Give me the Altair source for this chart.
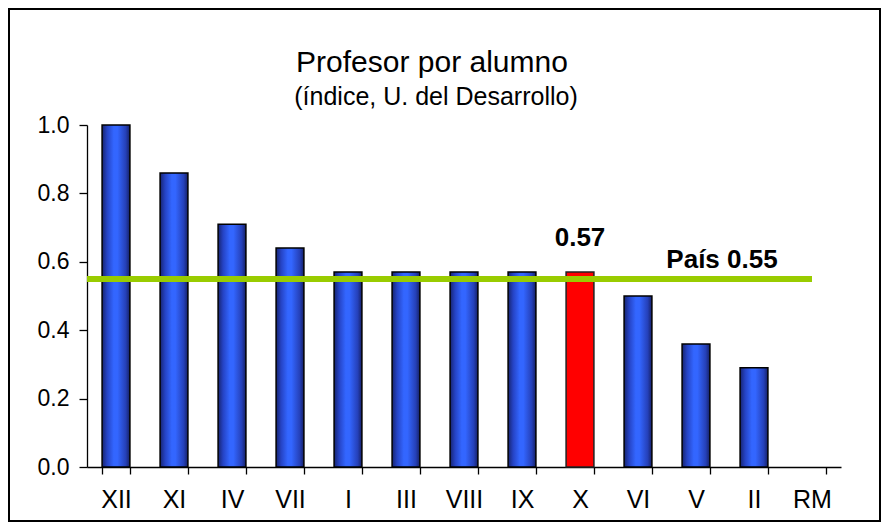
import altair as alt
import pandas as pd

# ---- data ----
regions = ["XII", "XI", "IV", "VII", "I", "III", "VIII", "IX", "X", "VI", "V", "II", "RM"]
values = [1.00, 0.86, 0.71, 0.64, 0.57, 0.57, 0.57, 0.57, 0.57, 0.50, 0.36, 0.29, 0.0]
highlight = "X"
pais_value = 0.55
pais_label = "País 0.55"
y_ticks = [0.0, 0.2, 0.4, 0.6, 0.8, 1.0]
title_text = "Profesor por alumno"
subtitle_text = "(índice, U. del Desarrollo)"

df = pd.DataFrame({"region": regions, "valor": values})
hl_value = values[regions.index(highlight)]
df_hl = pd.DataFrame({"region": [highlight], "valor": [hl_value], "label": [f"{hl_value:.2f}"]})
df_pais = pd.DataFrame({"region": ["II"], "valor": [pais_value], "label": [pais_label]})

FONT = "Liberation Sans"
W, H = 754, 342

xscale = alt.Scale(domain=regions, paddingInner=0.52, paddingOuter=0.26)
yscale = alt.Scale(domain=[0, 1])

x_axis = alt.Axis(title=None, labelFontSize=25, tickSize=7, tickBand="extent",
                  labelPadding=13, labelAngle=0, labelFont=FONT, labelColor="black",
                  domainColor="black", tickColor="black", domainWidth=1.3, tickWidth=1.3,
                  grid=False)
y_axis = alt.Axis(title=None, values=y_ticks, format=".1f", labelFontSize=23,
                  tickSize=8, labelPadding=10, labelFont=FONT, labelColor="black",
                  domainColor="black", tickColor="black", domainWidth=1.3, tickWidth=1.3,
                  grid=False)

blue_grad = alt.LinearGradient(
    gradient="linear", x1=0, x2=1, y1=0, y2=0,
    stops=[
        alt.GradientStop(color="#172470", offset=0),
        alt.GradientStop(color="#2543c4", offset=0.18),
        alt.GradientStop(color="#3366ff", offset=0.42),
        alt.GradientStop(color="#3366ff", offset=0.55),
        alt.GradientStop(color="#2540b8", offset=0.85),
        alt.GradientStop(color="#152066", offset=1),
    ],
)

base = alt.Chart(df).encode(
    x=alt.X("region:N", scale=xscale, axis=x_axis),
    y=alt.Y("valor:Q", scale=yscale, axis=y_axis),
)

bars = base.mark_bar(fill=blue_grad, stroke="black", strokeWidth=1.5).transform_filter(
    (alt.datum.valor > 0) & (alt.datum.region != highlight)
)
red_bar = base.mark_bar(fill="#ff0000", stroke="#222222", strokeWidth=1.5).transform_filter(
    alt.datum.region == highlight
)

line = alt.Chart(pd.DataFrame({"valor": [pais_value]})).mark_rule(
    color="#99cc00", strokeWidth=6
).encode(
    x=alt.X(datum="RM", type="nominal", bandPosition=0.5, scale=xscale, axis=x_axis),
    x2=alt.value(0),
    y=alt.Y("valor:Q", scale=yscale, axis=y_axis),
)

hl_text = alt.Chart(df_hl).mark_text(
    font=FONT, fontSize=26, fontWeight="bold", color="black", baseline="alphabetic", dy=-26
).encode(
    x=alt.X("region:N", scale=xscale, axis=x_axis),
    y=alt.Y("valor:Q", scale=yscale, axis=y_axis),
    text="label:N",
)

pais_text = alt.Chart(df_pais).mark_text(
    font=FONT, fontSize=26, fontWeight="bold", color="black", baseline="alphabetic", dx=-32, dy=-11
).encode(
    x=alt.X("region:N", scale=xscale, axis=x_axis),
    y=alt.Y("valor:Q", scale=yscale, axis=y_axis),
    text="label:N",
)

title = alt.Chart(pd.DataFrame({"t": [title_text]})).mark_text(
    font=FONT, fontSize=30, color="black", baseline="alphabetic", align="center"
).encode(x=alt.value(345), y=alt.value(-53), text="t:N")

subtitle = alt.Chart(pd.DataFrame({"t": [subtitle_text]})).mark_text(
    font=FONT, fontSize=25, color="black", baseline="alphabetic", align="center"
).encode(x=alt.value(349), y=alt.value(-20), text="t:N")

border = alt.Chart(pd.DataFrame({"b": [1]})).mark_rect(
    fill="white", fillOpacity=0, stroke="black", strokeWidth=2
).encode(x=alt.value(-78), x2=alt.value(793), y=alt.value(-116), y2=alt.value(396))

chart = alt.layer(border, bars, red_bar, line, hl_text, pais_text, title, subtitle).properties(
    width=W, height=H, padding=0, background="white"
).configure_view(
    stroke="transparent"
)

chart.save("out.html", embed_options={"renderer": "svg", "actions": False})
